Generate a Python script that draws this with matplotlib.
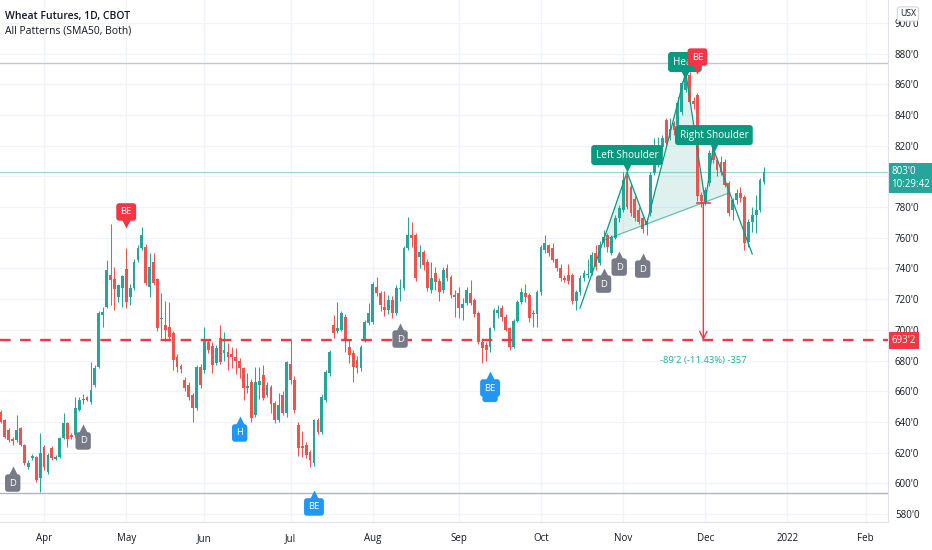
import numpy as np
import pandas as pd
import matplotlib
matplotlib.use('Agg')
import matplotlib.pyplot as plt
from matplotlib.transforms import offset_copy, blended_transform_factory

plt.rcParams['font.family'] = ['Open Sans', 'DejaVu Sans']

# daily bars of wheat futures, prices in cents (from 2021-03-17)
opens = [646.5, 641.2, 634.7, 629.0, 628.2, 636.0, 625.0, 610.6, 616.5, 617.1,
         603.5, 623.7, 607.4, 623.0, 615.8, 617.1, 629.5, 639.3, 631.5, 631.5,
         647.8, 654.0, 656.2, 653.0, 664.0, 675.8, 709.7, 714.9, 736.0, 733.0,
         721.5, 727.5, 739.5, 721.5, 727.5, 745.5, 753.5, 754.0, 728.0, 744.0,
         733.0, 707.0, 703.0, 701.8, 698.0, 682.5, 676.5, 667.5, 664.0, 657.5,
         649.0, 676.0, 674.0, 692.0, 689.5, 678.5, 694.5, 685.0, 685.5, 684.0,
         682.5, 680.0, 675.0, 662.0, 666.0, 644.5, 664.0, 670.5, 657.5, 663.0,
         652.5, 641.5, 657.5, 646.0, 678.0, 667.0, 638.0, 624.5, 625.0, 620.5,
         613.0, 641.0, 633.5, 654.5, 672.0, 703.0, 699.0, 700.0, 708.5, 689.0,
         685.0, 680.5, 675.0, 693.5, 704.5, 705.0, 728.0, 724.0, 715.0, 713.0,
         719.5, 711.0, 726.5, 727.0, 753.0, 762.0, 761.5, 747.5, 750.5, 744.0,
         726.0, 737.0, 732.0, 726.0, 740.0, 734.5, 723.0, 724.0, 714.0, 717.5,
         724.0, 719.5, 711.0, 692.0, 690.0, 688.5, 701.0, 711.0, 714.5, 708.5,
         701.0, 689.0, 706.0, 718.0, 724.0, 723.0, 710.0, 710.0, 724.5, 752.0,
         755.0, 753.0, 746.0, 740.0, 734.0, 736.0, 736.0, 718.5, 724.5, 734.0,
         735.5, 737.0, 750.0, 743.5, 756.5, 761.5, 750.0, 760.0, 773.0, 778.0,
         800.5, 793.0, 785.0, 778.0, 773.0, 768.0, 776.0, 802.0, 812.5, 819.0,
         836.7, 825.0, 834.7, 833.4, 841.9, 856.2, 866.0, 849.0, 853.0, 788.0,
         783.0, 795.6, 819.1, 810.6, 809.3, 809.3, 795.6, 778.1, 784.6, 789.1,
         786.5, 757.2, 770.2, 774.8, 778.1, 796.3]
highs = [648.0, 642.0, 636.0, 630.0, 644.5, 637.0, 625.5, 615.0, 619.0, 618.0,
         632.8, 625.0, 620.0, 624.0, 618.5, 630.5, 645.8, 640.0, 632.5, 656.2,
         656.0, 658.0, 657.0, 679.0, 677.0, 712.0, 714.9, 745.5, 769.0, 741.0,
         730.0, 736.0, 753.0, 730.0, 746.0, 755.0, 767.0, 756.0, 750.0, 750.0,
         734.0, 724.0, 719.0, 718.0, 699.5, 684.0, 678.0, 669.0, 666.0, 659.0,
         677.0, 678.0, 702.0, 694.0, 692.0, 690.0, 703.0, 698.5, 691.5, 689.0,
         688.0, 681.5, 676.0, 672.0, 668.0, 676.0, 676.0, 677.0, 666.0, 664.0,
         653.5, 659.0, 660.0, 680.0, 693.5, 670.0, 640.0, 634.0, 627.0, 621.5,
         642.0, 642.5, 658.0, 674.0, 687.0, 709.5, 718.0, 712.5, 710.0, 693.5,
         687.0, 683.0, 690.0, 706.5, 717.5, 731.0, 734.5, 725.0, 725.0, 723.0,
         722.0, 729.0, 733.0, 754.5, 773.5, 770.0, 763.0, 755.5, 752.0, 746.0,
         744.0, 741.0, 734.0, 741.0, 743.0, 736.0, 726.0, 728.0, 720.5, 728.0,
         732.5, 721.0, 712.0, 693.5, 692.0, 702.0, 714.0, 716.5, 716.5, 710.0,
         702.0, 707.0, 719.5, 727.0, 730.0, 724.0, 713.0, 726.0, 755.0, 762.0,
         756.0, 756.5, 747.0, 743.0, 736.0, 743.0, 737.0, 726.0, 735.5, 739.0,
         746.0, 750.5, 755.0, 758.0, 765.0, 763.0, 762.0, 774.5, 781.5, 803.0,
         804.0, 795.0, 787.0, 780.0, 774.0, 773.0, 803.0, 825.0, 825.6, 827.0,
         838.0, 838.0, 836.0, 852.0, 862.0, 868.0, 868.0, 852.0, 854.0, 790.0,
         793.0, 817.0, 820.4, 812.0, 813.0, 811.0, 797.0, 786.0, 792.0, 793.0,
         788.0, 772.0, 780.0, 788.0, 799.0, 806.0]
lows = [639.0, 629.5, 627.0, 625.0, 627.0, 624.0, 612.0, 609.5, 615.0, 600.8,
        594.3, 609.0, 606.0, 615.0, 615.0, 616.5, 629.0, 623.7, 629.0, 630.5,
        647.0, 652.0, 653.5, 652.0, 663.0, 675.0, 701.8, 714.0, 716.0, 713.0,
        718.0, 715.0, 714.0, 716.0, 726.0, 744.0, 752.0, 729.0, 721.5, 729.0,
        699.0, 695.0, 693.0, 694.0, 674.0, 672.5, 672.0, 660.0, 654.5, 640.0,
        648.0, 662.0, 672.0, 685.0, 672.0, 677.0, 678.0, 680.0, 674.0, 675.0,
        671.0, 668.5, 654.5, 659.0, 640.0, 643.0, 655.0, 654.0, 656.0, 645.5,
        639.5, 640.0, 644.5, 643.0, 665.0, 646.0, 618.0, 617.0, 616.5, 610.5,
        611.0, 632.0, 632.0, 653.0, 670.0, 695.0, 698.0, 699.0, 685.5, 678.5,
        666.0, 672.0, 673.5, 692.0, 703.0, 704.0, 722.0, 712.0, 709.0, 710.0,
        708.0, 709.5, 719.0, 726.0, 752.0, 754.0, 732.0, 740.0, 739.0, 725.0,
        724.0, 726.0, 719.0, 724.0, 732.0, 721.0, 708.5, 707.5, 706.5, 716.0,
        716.0, 708.5, 690.5, 678.5, 680.0, 685.5, 700.0, 708.0, 706.0, 699.0,
        687.0, 688.0, 705.0, 717.0, 718.0, 705.0, 702.0, 702.0, 723.0, 750.0,
        748.0, 744.0, 738.5, 732.0, 731.0, 730.0, 717.0, 713.0, 723.0, 732.0,
        734.0, 735.5, 739.0, 742.0, 754.0, 751.0, 749.0, 759.0, 770.0, 776.5,
        779.0, 774.0, 771.0, 769.0, 763.0, 762.0, 774.0, 801.0, 806.0, 817.0,
        820.0, 824.0, 827.0, 832.0, 840.0, 855.0, 847.0, 844.0, 784.0, 780.0,
        781.5, 794.0, 809.0, 800.0, 801.0, 793.0, 774.0, 771.5, 782.0, 783.0,
        752.0, 754.0, 764.0, 763.0, 777.0, 795.0]
closes = [640.0, 630.2, 628.2, 627.5, 634.7, 625.0, 613.2, 613.2, 617.8, 602.2,
          619.7, 610.6, 618.4, 616.5, 617.1, 629.5, 639.3, 628.9, 630.2, 649.1,
          654.3, 655.0, 654.3, 660.8, 675.1, 711.0, 711.5, 739.0, 732.5, 726.5,
          729.0, 735.0, 718.0, 727.5, 744.0, 753.5, 762.0, 730.5, 741.0, 730.5,
          701.0, 708.0, 700.0, 695.5, 680.5, 676.0, 674.5, 662.0, 656.5, 649.0,
          676.0, 664.0, 693.5, 687.0, 677.0, 688.0, 679.0, 687.0, 682.5, 682.0,
          680.0, 675.0, 662.0, 663.5, 642.5, 666.0, 666.5, 655.5, 664.0, 652.0,
          641.5, 651.0, 646.0, 679.0, 667.0, 648.0, 623.0, 623.0, 618.5, 615.0,
          641.0, 633.5, 656.0, 672.5, 685.5, 698.0, 701.5, 711.0, 693.5, 683.5,
          676.0, 675.0, 689.0, 705.0, 711.0, 730.0, 724.0, 716.0, 713.0, 719.5,
          711.0, 727.0, 727.5, 753.5, 761.5, 760.0, 734.0, 751.0, 742.0, 727.5,
          734.0, 731.0, 724.5, 739.0, 734.0, 722.5, 721.5, 714.0, 717.0, 726.0,
          717.5, 710.0, 692.0, 688.0, 687.0, 701.0, 713.0, 713.0, 708.5, 700.0,
          689.0, 706.0, 718.0, 724.5, 721.5, 707.5, 711.0, 724.5, 754.0, 756.5,
          750.0, 745.5, 740.0, 734.0, 732.5, 731.5, 718.5, 724.5, 734.0, 737.0,
          736.5, 749.0, 741.0, 755.0, 760.5, 754.0, 760.5, 773.0, 779.5, 797.5,
          780.0, 776.0, 773.0, 770.5, 766.0, 771.0, 801.0, 815.0, 817.0, 825.0,
          821.7, 831.0, 830.2, 847.8, 860.8, 867.3, 848.4, 847.0, 787.0, 784.0,
          791.0, 815.2, 810.6, 804.1, 803.0, 794.3, 776.1, 784.6, 789.1, 785.9,
          756.6, 770.2, 774.8, 778.1, 797.6, 803.0]

holidays = ['2021-04-02', '2021-05-31', '2021-07-05', '2021-09-06',
            '2021-11-25', '2021-12-24', '2021-12-31', '2022-01-17']

# head & shoulders: start, left shoulder, neck 1, head, neck 2, right shoulder, end
hs_idx = [148, 160, 165, 175, 180, 182, 192]
hs_price = [714.2, 802.8, 768.9, 868.0, 783.3, 818.4, 749.4]

target_from = 782.5
target_price = 693.25
last_price = 803.0
upper_level = 873.8
lower_level = 593.7

# pattern tags: (bar, price, text, kind)
tags = [(3, 600.2, 'D', 'doji'), (21, 627.6, 'D', 'doji'), (61, 632.8, 'H', 'bull'),
        (80, 584.6, 'BE', 'bull'), (102, 694.0, 'D', 'doji'), (125, 658.6, 'H', 'bull'),
        (125, 662.1, 'BE', 'bull'), (154, 729.8, 'D', 'doji'), (158, 740.9, 'D', 'doji'),
        (164, 739.6, 'D', 'doji'), (32, 776.8, 'BE', 'bear'), (178, 877.7, 'BE', 'bear')]

UP = '#26a69a'
DOWN = '#ef5350'
TEAL = '#089981'
kind_color = {'doji': '#787b86', 'bull': '#2196f3', 'bear': '#f23645'}

o = np.array(opens); h = np.array(highs); l = np.array(lows); c = np.array(closes)
n = len(c)
x = np.arange(n)

dates = pd.bdate_range('2021-03-17', '2022-02-28', freq='C', holidays=holidays)
month_pos, month_lab = [], []
for i in range(1, len(dates)):
    if dates[i].month != dates[i - 1].month:
        month_pos.append(i)
        month_lab.append('2022' if dates[i].month == 1 else dates[i].strftime('%b'))


def price_fmt(v, p):
    # the 800 label sits under the last-price tag
    if abs(v - 800) < 1e-6:
        return ''
    return f"{int(v)}'{int(round((v % 1) * 8))}"


fig = plt.figure(figsize=(9.32, 5.5), dpi=100)
ax = fig.add_axes([0, 28 / 550, 888 / 932, 522 / 550])
ax.set_xlim(-0.25, 226.7)
ax.set_ylim(574.8, 914.9)

# grid
ax.set_xticks(month_pos)
ax.set_xticklabels(month_lab)
ax.set_yticks(np.arange(580, 901, 20))
ax.yaxis.set_major_formatter(plt.FuncFormatter(price_fmt))
ax.yaxis.tick_right()
ax.grid(True, color='#f0f3fa', lw=0.9, zorder=0)
ax.set_axisbelow(True)
ax.tick_params(axis='both', length=0, labelsize=7, colors='#131722')
ax.tick_params(axis='y', pad=5)
ax.tick_params(axis='x', pad=8)
for s in ['top', 'left']:
    ax.spines[s].set_visible(False)
ax.spines['right'].set_color('#e0e3eb')
ax.spines['bottom'].set_color('#e0e3eb')

# levels
ax.axhline(upper_level, color='#c3c6ce', lw=1.0, zorder=1)
ax.axhline(lower_level, color='#b2b5be', lw=1.0, zorder=1)
ax.axhline(last_price, color=UP, lw=0.8, alpha=0.45, zorder=1)
ax.axhline(target_price, color='#f23645', lw=1.7, dashes=(4.5, 4), zorder=5)

# candles
up = c >= o
col = np.where(up, UP, DOWN)
ax.vlines(x, l, h, colors=col, lw=0.75, zorder=3)
body_lo = np.minimum(o, c)
body_h = np.maximum(np.abs(c - o), 0.6)
ax.bar(x, body_h, bottom=body_lo, width=0.72, color=col, lw=0, zorder=3)

# head & shoulders pattern
def cross(a, b, p, q):
    (x1, y1), (x2, y2), (x3, y3), (x4, y4) = a, b, p, q
    d = (x1 - x2) * (y3 - y4) - (y1 - y2) * (x3 - x4)
    t = ((x1 - x3) * (y3 - y4) - (y1 - y3) * (x3 - x4)) / d
    return x1 + t * (x2 - x1), y1 + t * (y2 - y1)

pts = list(zip(hs_idx, hs_price))
left_c = cross(pts[0], pts[1], pts[2], pts[4])
right_c = cross(pts[5], pts[6], pts[2], pts[4])
poly = [left_c] + pts[1:6] + [right_c]
ax.fill([p[0] for p in poly], [p[1] for p in poly], color=TEAL, alpha=0.13, lw=0, zorder=2)
ax.plot(hs_idx, hs_price, color=TEAL, lw=0.9, zorder=4)
ax.plot([left_c[0], right_c[0]], [left_c[1], right_c[1]], color=TEAL, lw=0.9, alpha=0.6, zorder=4)

# target projection
tx = 179.5
ax.annotate('', xy=(tx, target_price), xytext=(tx, target_from),
            arrowprops=dict(arrowstyle='->', color='#f23645', lw=1.0, shrinkA=0, shrinkB=0,
                            mutation_scale=13), zorder=6)
ax.plot([tx - 1.6, tx + 1.6], [target_from, target_from], color='#f23645', lw=1.2, zorder=6)
ax.text(tx, 679.7, "-89'2 (-11.43%) -357", ha='center', va='center', fontsize=6.8,
        color='#22ab94', zorder=6)


def tag(i, p, txt, fc, point_up, fs=6.8, z=7):
    ax.text(i, p, txt, ha='center', va='center', fontsize=fs, color='white', zorder=z,
            bbox=dict(boxstyle='round,pad=0.45,rounding_size=0.3', fc=fc, ec='none'))
    dy = 8.3 if point_up else -8.3
    tr = offset_copy(ax.transData, fig=fig, x=0, y=dy, units='points')
    ax.plot([i], [p], marker='^' if point_up else 'v', ms=6.5, color=fc, mec='none',
            transform=tr, zorder=z)


for i, p, txt, kind in tags:
    tag(i, p, txt, kind_color[kind], kind != 'bear', z=8 if kind == 'bear' else 7)

tag(160, 813.9, 'Left Shoulder', TEAL, False, fs=7.2)
tag(174.8, 874.5, 'Head', TEAL, False, fs=7.2)
tag(182.2, 826.9, 'Right Shoulder', TEAL, False, fs=7.2, z=7.5)

# price axis tags
btr = blended_transform_factory(ax.transAxes, ax.transData)
ax.text(1.004, 798.9, "803'0\n10:29:42", transform=btr, ha='left', va='center', fontsize=7,
        color='white', linespacing=1.25, clip_on=False, zorder=10,
        bbox=dict(boxstyle='square,pad=0.3', fc=UP, ec='none'))
ax.text(1.004, target_price, "693'2", transform=btr, ha='left', va='center', fontsize=7,
        color='white', clip_on=False, zorder=10,
        bbox=dict(boxstyle='square,pad=0.3', fc='#f23645', ec='none'))

fig.text(908 / 932, 1 - 14 / 550, 'USX', ha='center', va='center', fontsize=6.3, color='#131722',
         bbox=dict(boxstyle='round,pad=0.3', fc='white', ec='#d1d4dc', lw=0.8))
fig.text(5 / 932, 1 - 16 / 550, 'Wheat Futures, 1D, CBOT', ha='left', va='center', fontsize=7.5,
         fontweight='semibold', color='#131722')
fig.text(5 / 932, 1 - 31 / 550, 'All Patterns (SMA50, Both)', ha='left', va='center', fontsize=7.5,
         color='#131722')

fig.savefig('out.png', dpi=100)
